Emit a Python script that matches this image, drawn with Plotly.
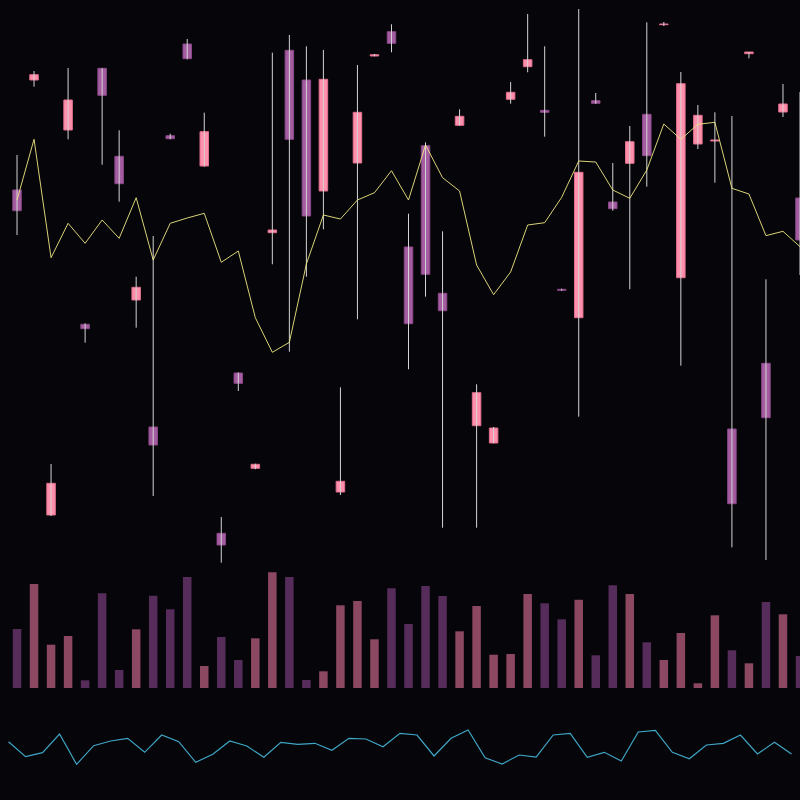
import plotly.graph_objects as go

idx = list(range(47))

open_ = [380, 490, 55, 440, 245.7, 501.7, 413.7, 270, 143, 434.3,
         526, 404, 36.7, 197, 101.7, 337.3, 519.7, 490, 379, 78,
         407, 514, 538.3, 323, 424.3, 276.7, 444.7, 144.3, 127, 470.7,
         503.3, 459.7, 280.7, 252.3, 469.3, 368, 406.7, 455.7, 545.3, 292.3,
         426, 429, 141, 516.3, 206.7, 458, 372]
high = [415, 499, 106, 502, 246.7, 502, 439.7, 293.3, 334, 436.3,
        531, 457.3, 53, 197.5, 106.3, 517.3, 535, 523.7, 520, 182.7,
        505, 516, 545.7, 356.3, 427.7, 338.7, 460.7, 185.7, 143, 488,
        556, 523.7, 281.3, 561, 477, 407, 444, 547.7, 548, 498,
        465, 457.7, 454, 518, 290.7, 486, 478]
low = [335, 483.3, 54, 430.7, 227.3, 405.3, 368.3, 242.3, 74, 430.7,
       510.7, 403.3, 7.3, 179, 100.7, 305.7, 218.3, 293.3, 340.7, 75,
       250.7, 513.7, 517.7, 200.7, 273.3, 42.3, 444.3, 42.3, 126.7, 466.3,
       497.7, 433.3, 279.3, 153.3, 466.3, 359.3, 280.7, 383.3, 544, 204.3,
       421, 387.3, 22.7, 511.7, 10, 453, 295]
close = [359.3, 495.3, 86.7, 470, 241.3, 474.7, 386.3, 282.7, 125, 431.3,
         511.3, 438.3, 25, 186.7, 105.7, 340, 430.7, 354, 490.7, 88.7,
         457.7, 515.3, 526.7, 246.3, 295.7, 259.3, 453.7, 177.3, 142, 477.7,
         510.3, 457.7, 279.7, 397.7, 466.7, 361.3, 428.3, 414.3, 546, 486.3,
         454.7, 430, 66.3, 518, 152.3, 466, 330]

trend = [370, 430.7, 312.3, 346.7, 326.7, 350, 331.7, 372.3, 310, 346.7,
         352, 356.7, 307.7, 319, 252.3, 217.7, 227.7, 306, 355, 351,
         370, 377.3, 399.3, 370, 425, 392.3, 379, 305, 275.3, 298,
         345, 347.3, 372.7, 409, 408, 380, 371.7, 400, 446, 430.7,
         445.7, 447.7, 381.7, 376, 334.3, 338.7, 323.3]

volume = [59, 104, 43.3, 52, 7.7, 94.7, 18, 58.7, 92.3, 78.7,
          111, 22, 51, 28, 49.7, 115.7, 111, 8, 16.7, 82.7,
          87, 48.7, 99.7, 64, 102, 92, 56.7, 82, 33.3, 34,
          94, 84.7, 68.7, 88.3, 32.7, 102.7, 94, 45.7, 28, 55,
          4.7, 72.7, 37.7, 24.7, 86, 73.7, 32]

indicator = [58.3, 43.3, 47.3, 66, 35.7, 54.3, 59, 61.7, 47.7, 65,
             58.3, 37.7, 45.7, 59, 54, 42.7, 57.7, 55.7, 56.7, 49.7,
             61.7, 61, 53.3, 66.7, 65, 44, 61.7, 70, 42.3, 36,
             45, 43, 65, 66.7, 42.7, 47.7, 39, 68, 69.7, 47.7,
             41.3, 55, 56.7, 65, 46, 57.7, 46]

UP, DOWN = "#ff8fab", "#a55da2"
UP_EDGE, DOWN_EDGE = "#e0708f", "#8a4888"
VOL_UP, VOL_DOWN = "#8c4860", "#552c5a"
BG = "#060509"

up = [c >= o for o, c in zip(open_, close)]

fig = go.Figure()

# wicks
wx, wy = [], []
for i, h, l in zip(idx, high, low):
    wx += [i, i, None]
    wy += [l, h, None]
fig.add_trace(go.Scatter(x=wx, y=wy, mode="lines",
                         line=dict(color="#d4d4d4", width=1),
                         hoverinfo="skip", showlegend=False,
                         xaxis="x", yaxis="y"))

# bodies
fig.add_trace(go.Bar(
    x=idx,
    base=[min(o, c) for o, c in zip(open_, close)],
    y=[max(abs(c - o), 0.6) for o, c in zip(open_, close)],
    width=0.5,
    marker=dict(color=[UP if u else DOWN for u in up],
                line=dict(color=[UP_EDGE if u else DOWN_EDGE for u in up], width=1)),
    showlegend=False, xaxis="x", yaxis="y"))

# trend line
fig.add_trace(go.Scatter(x=idx, y=trend, mode="lines",
                         line=dict(color="rgba(240,232,130,0.9)", width=1),
                         showlegend=False, xaxis="x", yaxis="y"))

# volume
fig.add_trace(go.Bar(x=idx, y=volume, width=0.5,
                     marker=dict(color=[VOL_UP if u else VOL_DOWN for u in up],
                                 line=dict(width=0)),
                     showlegend=False, xaxis="x2", yaxis="y2"))

# bottom indicator
fig.add_trace(go.Scatter(x=idx, y=indicator, mode="lines",
                         line=dict(color="#3fa6c6", width=1.2),
                         showlegend=False, xaxis="x3", yaxis="y3"))

hidden = dict(visible=False, showgrid=False, zeroline=False, fixedrange=True)
fig.update_layout(
    width=800, height=800,
    margin=dict(l=0, r=0, t=0, b=0),
    paper_bgcolor=BG, plot_bgcolor=BG,
    showlegend=False,
    xaxis=dict(range=[-1, 46], **hidden),
    yaxis=dict(domain=[0.2875, 1], range=[0, 570], **hidden),
    xaxis2=dict(range=[-1, 46], anchor="y2", **hidden),
    yaxis2=dict(domain=[0.14, 0.29], range=[0, 120], anchor="x2", **hidden),
    xaxis3=dict(range=[-0.5, 46.5], anchor="y3", **hidden),
    yaxis3=dict(domain=[0, 0.125], range=[0, 100], anchor="x3", **hidden),
)

fig.write_html(
    "out.html",
    config={"displayModeBar": False},
    post_script=("document.body.style.margin='0';"
                 "document.body.style.overflow='hidden';"
                 "document.body.style.background='%s';" % BG),
)
